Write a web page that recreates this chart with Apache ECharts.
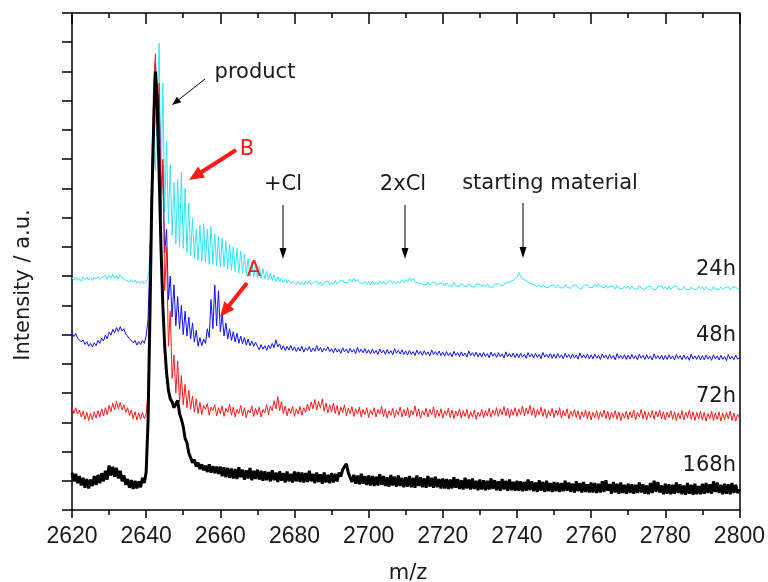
<!DOCTYPE html>
<html>
<head>
<meta charset="utf-8">
<script src="https://cdn.jsdelivr.net/npm/echarts@6/dist/echarts.min.js"></script>
<style>
html,body{margin:0;padding:0;background:#fff;}
#chart{width:768px;height:582px;}
</style>
</head>
<body>
<div id="chart"></div>
<script>
// m/z grid: 2620 .. 2800, step 0.5
const mzStart = 2620, mzStep = 0.5, nPts = 361;
const mz = [];
for (let i = 0; i < nPts; i++) mz.push(mzStart + i * mzStep);

const xTicks = [2620, 2640, 2660, 2680, 2700, 2720, 2740, 2760, 2780, 2800];
const seriesNames = ['24h', '48h', '72h', '168h'];

// intensities (offset traces, a.u.)
const int24h = [
7.94,7.87,7.97,7.85,7.92,7.83,7.96,7.88,7.97,7.86,7.94,7.85,7.97,7.90,7.99,7.88,7.95,7.90,8.02,7.89,
8.03,7.93,8.06,7.92,8.02,7.90,8.04,7.94,7.98,7.86,7.90,7.80,7.89,7.79,7.87,7.76,7.83,7.75,7.84,7.73,
7.80,7.95,8.70,10.4,12.4,11.6,13.8,15.97,10.8,14.6,10.2,12.6,9.8,11.8,9.4,11.2,9.1,11.3,9.0,11.55,
8.95,11.0,8.8,10.5,8.7,10.0,8.6,9.6,8.55,9.75,8.5,9.8,8.45,9.6,8.4,9.7,8.4,9.45,8.35,9.35,
8.3,9.3,8.3,9.2,8.25,9.1,8.2,9.0,8.15,8.95,8.1,8.85,8.1,8.75,8.05,8.6,8.0,8.5,7.98,8.42,
7.95,8.34,7.92,8.25,7.9,8.18,7.88,8.1,7.85,8.05,7.82,7.98,7.8,7.94,7.78,7.9,7.76,7.86,7.75,7.82,
7.80,7.70,7.83,7.71,7.79,7.69,7.82,7.74,7.84,7.70,7.78,7.72,7.83,7.71,7.80,7.68,7.77,7.73,7.84,7.70,
7.79,7.72,7.84,7.73,7.81,7.75,7.86,7.77,7.82,7.79,7.90,7.80,7.93,7.82,7.89,7.78,7.84,7.74,7.82,7.72,
7.81,7.71,7.83,7.72,7.80,7.70,7.84,7.74,7.82,7.71,7.79,7.73,7.85,7.74,7.81,7.72,7.83,7.76,7.86,7.78,
7.88,7.80,7.94,7.84,7.91,7.81,7.86,7.76,7.82,7.72,7.78,7.70,7.80,7.69,7.76,7.71,7.79,7.68,7.75,7.70,
7.76,7.66,7.77,7.68,7.74,7.65,7.78,7.67,7.73,7.64,7.75,7.68,7.72,7.63,7.74,7.66,7.71,7.62,7.73,7.67,
7.72,7.63,7.71,7.62,7.74,7.64,7.70,7.61,7.72,7.66,7.74,7.67,7.73,7.70,7.77,7.72,7.80,7.78,7.86,7.88,
7.97,8.12,7.99,7.90,7.95,7.84,7.85,7.76,7.78,7.70,7.72,7.64,7.71,7.62,7.70,7.63,7.69,7.60,7.68,7.62,
7.69,7.60,7.70,7.61,7.67,7.59,7.71,7.62,7.68,7.58,7.67,7.61,7.70,7.60,7.66,7.57,7.68,7.62,7.71,7.60,
7.66,7.62,7.72,7.63,7.74,7.65,7.70,7.60,7.67,7.58,7.66,7.60,7.65,7.56,7.67,7.59,7.64,7.57,7.66,7.58,
7.65,7.56,7.66,7.57,7.63,7.55,7.67,7.58,7.64,7.54,7.63,7.57,7.66,7.56,7.62,7.53,7.64,7.58,7.67,7.56,
7.63,7.55,7.65,7.54,7.62,7.57,7.66,7.55,7.61,7.53,7.64,7.56,7.62,7.52,7.63,7.55,7.60,7.54,7.65,7.56,
7.63,7.53,7.64,7.55,7.61,7.52,7.65,7.56,7.62,7.54,7.63,7.53,7.60,7.55,7.64,7.52,7.61,7.56,7.63,7.55,
7.59];

const int48h = [
6.06,5.93,6.04,5.88,5.92,5.75,5.82,5.66,5.76,5.60,5.70,5.58,5.72,5.62,5.80,5.70,5.88,5.78,5.98,5.86,
6.08,5.98,6.18,6.06,6.24,6.10,6.27,6.12,6.20,6.02,6.05,5.86,5.90,5.72,5.80,5.64,5.76,5.66,5.80,5.70,
5.95,6.50,8.50,11.0,13.6,15.3,12.8,14.2,10.8,11.8,8.8,9.6,7.2,8.0,6.6,7.7,6.3,7.3,6.2,7.0,
6.0,6.8,5.95,6.6,5.85,6.4,5.75,6.15,5.6,5.9,5.62,5.85,5.7,6.2,5.9,7.2,6.2,7.7,6.3,7.5,
6.1,6.7,5.95,6.4,5.85,6.2,5.8,6.1,5.75,6.05,5.7,5.95,5.68,5.9,5.64,5.85,5.62,5.78,5.6,5.74,
5.60,5.48,5.66,5.50,5.62,5.46,5.64,5.52,5.70,5.55,5.82,5.58,5.68,5.48,5.62,5.45,5.60,5.47,5.63,5.46,
5.58,5.42,5.56,5.44,5.60,5.40,5.55,5.46,5.59,5.41,5.54,5.43,5.62,5.44,5.57,5.40,5.53,5.45,5.58,5.42,
5.52,5.38,5.54,5.40,5.50,5.36,5.55,5.41,5.51,5.37,5.53,5.40,5.49,5.35,5.56,5.39,5.50,5.38,5.52,5.36,
5.48,5.34,5.50,5.36,5.46,5.32,5.51,5.37,5.47,5.33,5.49,5.35,5.45,5.31,5.52,5.36,5.46,5.34,5.48,5.32,
5.44,5.30,5.46,5.32,5.42,5.28,5.47,5.33,5.43,5.29,5.45,5.31,5.41,5.27,5.48,5.32,5.42,5.30,5.44,5.28,
5.40,5.26,5.42,5.28,5.38,5.24,5.43,5.29,5.39,5.25,5.41,5.27,5.37,5.23,5.44,5.28,5.38,5.26,5.40,5.24,
5.37,5.23,5.39,5.25,5.35,5.21,5.40,5.26,5.36,5.22,5.38,5.24,5.34,5.20,5.41,5.25,5.35,5.23,5.37,5.21,
5.35,5.21,5.37,5.23,5.33,5.19,5.38,5.24,5.34,5.20,5.36,5.22,5.32,5.18,5.39,5.23,5.33,5.21,5.35,5.19,
5.33,5.19,5.35,5.21,5.31,5.17,5.36,5.22,5.32,5.18,5.34,5.20,5.30,5.16,5.37,5.21,5.31,5.19,5.33,5.17,
5.31,5.17,5.33,5.19,5.29,5.15,5.34,5.20,5.30,5.16,5.32,5.18,5.28,5.14,5.35,5.19,5.29,5.17,5.31,5.15,
5.30,5.16,5.32,5.18,5.28,5.14,5.33,5.19,5.29,5.15,5.31,5.17,5.27,5.13,5.34,5.18,5.28,5.16,5.30,5.14,
5.29,5.15,5.31,5.17,5.27,5.13,5.32,5.18,5.28,5.14,5.30,5.16,5.26,5.12,5.33,5.17,5.27,5.15,5.29,5.13,
5.28,5.14,5.30,5.16,5.26,5.12,5.31,5.17,5.27,5.13,5.29,5.15,5.25,5.11,5.32,5.16,5.26,5.14,5.30,5.16,
5.20];

const int72h = [
3.52,3.30,3.50,3.28,3.42,3.18,3.38,3.10,3.34,3.06,3.30,3.08,3.36,3.14,3.40,3.18,3.46,3.22,3.50,3.26,
3.58,3.36,3.66,3.42,3.72,3.46,3.68,3.42,3.60,3.34,3.50,3.24,3.42,3.12,3.36,3.08,3.32,3.10,3.34,3.12,
3.30,4.00,7.50,11.5,14.5,15.6,13.0,14.6,10.0,12.0,7.5,9.0,5.6,6.8,4.5,5.3,4.0,5.1,3.7,4.6,
3.6,4.3,3.5,4.1,3.45,3.9,3.35,3.80,3.30,3.68,3.26,3.58,3.44,3.64,3.24,3.52,3.40,3.60,3.22,3.50,
3.30,3.56,3.20,3.48,3.34,3.62,3.24,3.52,3.18,3.44,3.30,3.58,3.22,3.50,3.16,3.42,3.32,3.56,3.20,3.48,
3.26,3.52,3.18,3.44,3.32,3.60,3.26,3.56,3.40,3.74,3.46,3.88,3.40,3.70,3.30,3.56,3.22,3.48,3.30,3.54,
3.20,3.46,3.28,3.54,3.24,3.50,3.34,3.62,3.40,3.70,3.46,3.78,3.42,3.72,3.48,3.80,3.38,3.66,3.32,3.60,
3.36,3.66,3.30,3.58,3.24,3.52,3.34,3.60,3.22,3.48,3.30,3.54,3.20,3.46,3.28,3.52,3.18,3.44,3.26,3.50,
3.16,3.42,3.26,3.50,3.18,3.44,3.28,3.54,3.20,3.46,3.14,3.40,3.24,3.48,3.16,3.42,3.26,3.52,3.18,3.44,
3.22,3.50,3.16,3.42,3.26,3.56,3.20,3.46,3.14,3.40,3.24,3.48,3.18,3.44,3.26,3.52,3.16,3.42,3.20,3.46,
3.14,3.40,3.24,3.48,3.16,3.42,3.12,3.38,3.22,3.46,3.14,3.40,3.20,3.44,3.12,3.36,3.18,3.42,3.10,3.34,
3.20,3.44,3.16,3.40,3.22,3.48,3.18,3.42,3.24,3.50,3.20,3.46,3.26,3.54,3.22,3.48,3.16,3.44,3.24,3.50,
3.20,3.46,3.26,3.56,3.22,3.48,3.28,3.58,3.24,3.50,3.16,3.44,3.26,3.52,3.20,3.46,3.14,3.40,3.22,3.48,
3.16,3.42,3.24,3.50,3.14,3.40,3.22,3.46,3.12,3.38,3.20,3.44,3.16,3.40,3.10,3.36,3.18,3.42,3.12,3.38,
3.08,3.34,3.16,3.40,3.10,3.36,3.18,3.42,3.12,3.38,3.08,3.34,3.16,3.40,3.10,3.36,3.06,3.32,3.14,3.38,
3.10,3.36,3.16,3.42,3.08,3.34,3.18,3.44,3.12,3.38,3.08,3.34,3.16,3.40,3.10,3.38,3.18,3.42,3.12,3.36,
3.08,3.34,3.16,3.40,3.10,3.36,3.06,3.32,3.12,3.40,3.08,3.34,3.16,3.42,3.10,3.36,3.06,3.34,3.12,3.38,
3.08,3.34,3.04,3.30,3.12,3.38,3.06,3.32,3.10,3.36,3.04,3.32,3.08,3.34,3.12,3.38,3.06,3.32,3.04,3.28,
3.15];

const int168h = [
1.28,0.98,1.24,0.92,1.16,0.84,1.10,0.76,1.06,0.74,1.04,0.82,1.16,0.86,1.20,0.92,1.26,0.98,1.34,1.04,
1.52,1.18,1.48,1.14,1.44,1.08,1.34,0.98,1.18,0.86,1.06,0.76,1.02,0.72,1.00,0.74,0.98,0.78,1.10,0.92,
1.30,3.00,6.50,10.5,13.0,15.0,14.0,11.5,9.0,7.0,5.6,4.7,4.1,3.8,3.7,3.5,3.45,3.75,3.3,3.1,
2.85,2.45,2.30,1.95,1.90,1.62,1.72,1.48,1.62,1.40,1.56,1.36,1.52,1.30,1.56,1.28,1.50,1.26,1.48,1.24,
1.48,1.16,1.46,1.12,1.44,1.10,1.42,1.08,1.40,1.06,1.46,1.12,1.38,1.04,1.36,1.08,1.44,1.02,1.34,1.06,
1.38,1.04,1.34,1.00,1.32,1.02,1.30,0.98,1.36,1.02,1.28,0.96,1.32,1.00,1.26,0.94,1.32,0.98,1.24,0.94,
1.32,0.98,1.30,0.96,1.28,0.94,1.26,0.96,1.34,0.98,1.24,0.92,1.28,0.96,1.22,0.90,1.28,0.94,1.20,0.92,
1.26,0.94,1.24,0.98,1.28,1.14,1.38,1.42,1.58,1.28,1.24,0.96,1.20,0.90,1.18,0.88,1.24,0.90,1.16,0.86,
1.18,0.84,1.16,0.82,1.14,0.84,1.22,0.86,1.16,0.82,1.12,0.80,1.20,0.84,1.14,0.80,1.18,0.82,1.10,0.78,
1.12,0.80,1.16,0.78,1.10,0.76,1.18,0.82,1.12,0.78,1.08,0.76,1.16,0.80,1.10,0.76,1.14,0.78,1.06,0.74,
1.08,0.74,1.06,0.72,1.04,0.74,1.12,0.76,1.06,0.72,1.02,0.70,1.10,0.74,1.04,0.70,1.08,0.72,1.00,0.68,
1.04,0.70,1.02,0.68,1.00,0.70,1.08,0.72,1.02,0.68,0.98,0.66,1.06,0.70,1.00,0.66,1.04,0.68,0.96,0.66,
1.00,0.66,0.98,0.64,0.96,0.66,1.04,0.68,0.98,0.64,0.94,0.62,1.02,0.66,0.96,0.62,1.00,0.64,0.92,0.62,
0.96,0.64,0.94,0.62,0.92,0.64,1.00,0.66,0.94,0.62,0.90,0.60,0.98,0.64,0.92,0.60,0.96,0.62,0.88,0.60,
0.94,0.60,0.92,0.58,0.90,0.60,0.98,0.62,1.02,0.66,0.88,0.56,0.96,0.60,0.90,0.56,0.94,0.58,0.86,0.56,
0.90,0.58,0.88,0.56,0.86,0.58,0.94,0.60,0.88,0.56,0.84,0.54,0.92,0.58,1.00,0.62,0.96,0.60,0.84,0.54,
0.90,0.56,0.88,0.54,0.86,0.56,0.94,0.58,0.88,0.54,0.84,0.52,0.92,0.56,0.86,0.52,0.90,0.54,0.82,0.54,
0.90,0.56,0.92,0.58,0.88,0.56,0.98,0.62,0.94,0.58,0.86,0.54,0.90,0.56,0.88,0.54,0.92,0.58,0.86,0.58,
0.70];

const seriesValues = [int24h, int48h, int72h, int168h];
const seriesColors = ['#2ee8f4', '#1010ff', '#ff1a1a', '#000000'];
const seriesWidths = [1, 1, 1, 3];

const FONT = '"DejaVu Sans", "Liberation Sans", Arial, sans-serif';
const TICKFONT = '"Liberation Sans Narrow", "Arial Narrow", "Liberation Sans", Arial, sans-serif';
const TXT = '#1a1a1a';

function pairs(vals) {
  const out = [];
  for (let i = 0; i < vals.length && i < mz.length; i++) out.push([mz[i], vals[i]]);
  return out;
}

function arrow(x1, y1, x2, y2, color, w, hl, hw) {
  const dx = x2 - x1, dy = y2 - y1, L = Math.hypot(dx, dy);
  const ux = dx / L, uy = dy / L, px = -uy, py = ux;
  const bx = x2 - ux * hl, by = y2 - uy * hl;
  return [
    {type: 'line', silent: true, z: 100, shape: {x1: x1, y1: y1, x2: bx + ux, y2: by + uy},
     style: {stroke: color, lineWidth: w}},
    {type: 'polygon', silent: true, z: 100,
     shape: {points: [[x2, y2], [bx + px * hw / 2, by + py * hw / 2], [bx - px * hw / 2, by - py * hw / 2]]},
     style: {fill: color}}
  ];
}

function label(text, x, y, opts) {
  opts = opts || {};
  return {
    type: 'text', silent: true, z: 100, x: x, y: y, rotation: opts.rotation || 0,
    style: {
      text: text, fill: opts.color || TXT,
      font: (opts.size || 21) + 'px ' + FONT,
      align: opts.align || 'center', verticalAlign: 'middle',
      textAlign: opts.align || 'center', textVerticalAlign: 'middle'
    }
  };
}

const chart = echarts.init(document.getElementById('chart'), null, {renderer: 'canvas'});

const axisLine = {show: true, onZero: false, lineStyle: {color: '#000', width: 1.5}};

const graphics = [].concat(
  arrow(205, 79, 172, 105, '#000', 1, 9, 7),
  arrow(236, 150, 189, 180, '#ff1a1a', 4, 15, 13),
  arrow(247, 283, 220, 317, '#ff1a1a', 4, 15, 13),
  arrow(283, 205, 283, 259, '#000', 1, 11, 7),
  arrow(405, 205, 405, 259, '#000', 1, 11, 7),
  arrow(523, 203, 523, 258, '#000', 1, 11, 7),
  [
    label('product', 255, 73),
    label('B', 247, 150, {color: '#ff1a1a'}),
    label('A', 254, 271, {color: '#ff1a1a'}),
    label('+Cl', 283, 185),
    label('2xCl', 403, 185),
    label('starting material', 550, 184),
    label('24h', 736, 270, {align: 'right'}),
    label('48h', 736, 336, {align: 'right'}),
    label('72h', 736, 397, {align: 'right'}),
    label('168h', 736, 466, {align: 'right'}),
    label('Intensity / a.u.', 24, 285, {rotation: Math.PI / 2}),
    label('m/z', 408, 574)
  ]
);

chart.setOption({
  animation: false,
  backgroundColor: '#fff',
  grid: {left: 72, right: 24, top: 13, bottom: 72},
  xAxis: [
    {
      type: 'value', position: 'bottom', min: xTicks[0], max: xTicks[xTicks.length - 1], interval: 20,
      axisLine: axisLine,
      axisTick: {show: true, length: 8, lineStyle: {color: '#000', width: 1.5}},
      minorTick: {show: true, splitNumber: 2, length: 5, lineStyle: {color: '#000', width: 1.5}},
      splitLine: {show: false},
      axisLabel: {show: true, color: TXT, fontSize: 23, fontFamily: TICKFONT, margin: 15,
                  formatter: function (v) { return String(v); }}
    },
    {
      type: 'value', position: 'top', min: xTicks[0], max: xTicks[xTicks.length - 1], interval: 20,
      axisLine: axisLine,
      axisTick: {show: true, inside: true, length: 11, lineStyle: {color: '#000', width: 1.5}},
      minorTick: {show: true, splitNumber: 2, length: 5, lineStyle: {color: '#000', width: 1.5}},
      splitLine: {show: false},
      axisLabel: {show: false}
    }
  ],
  yAxis: [
    {
      type: 'value', position: 'left', min: 0, max: 17, interval: 1,
      axisLine: axisLine,
      axisTick: {show: true, length: 10, lineStyle: {color: '#000', width: 1.5}},
      splitLine: {show: false},
      axisLabel: {show: false}
    },
    {
      type: 'value', position: 'right', min: 0, max: 17, interval: 1,
      axisLine: axisLine,
      axisTick: {show: false},
      splitLine: {show: false},
      axisLabel: {show: false}
    }
  ],
  series: seriesValues.map(function (vals, k) {
    return {
      name: seriesNames[k], type: 'line', data: pairs(vals),
      xAxisIndex: 0, yAxisIndex: 0,
      showSymbol: false, symbol: 'none', sampling: null, clip: true,
      lineStyle: {color: seriesColors[k], width: seriesWidths[k]},
      z: 2 + k
    };
  }),
  graphic: graphics
});
</script>
</body>
</html>
